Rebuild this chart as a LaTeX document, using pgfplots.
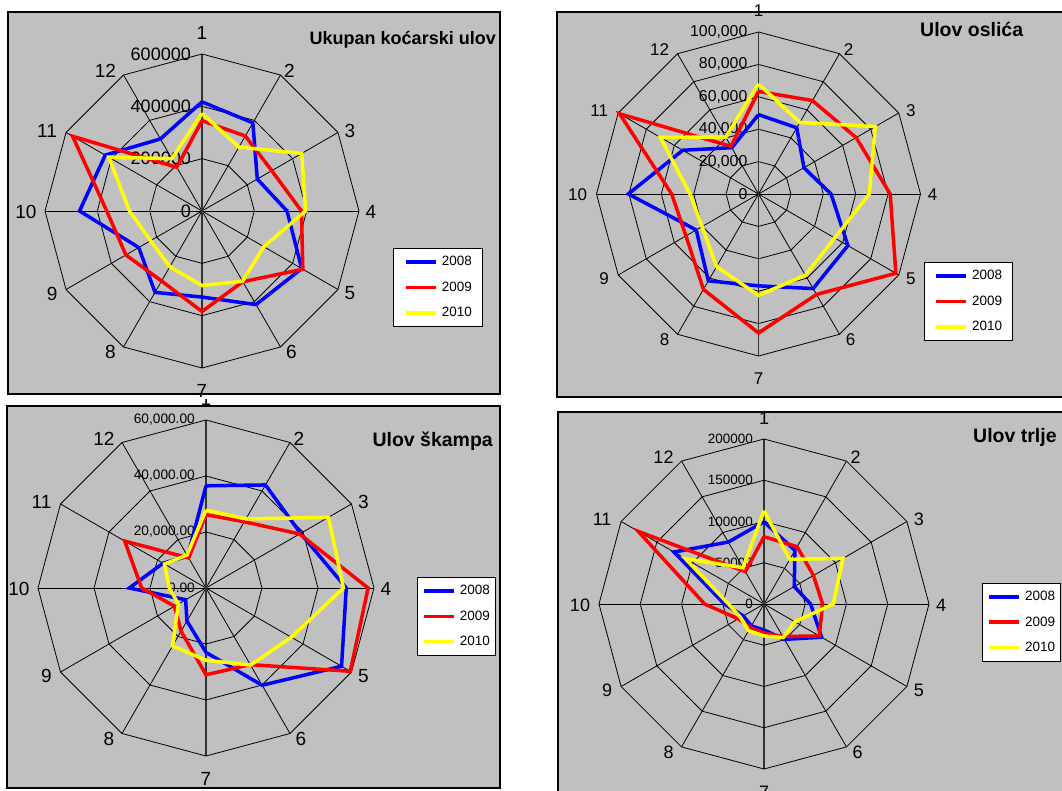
\documentclass[border=0pt]{standalone}
\usepackage{fontspec}
\setmainfont{Liberation Sans}
\usepackage{pgfplots}
\pgfplotsset{compat=1.18}
\usepackage{pgfplotstable}
\usepgfplotslibrary{polar}

\definecolor{panelgray}{RGB}{192,192,192}
\definecolor{xlblue}{RGB}{0,0,255}
\definecolor{xlred}{RGB}{255,0,0}
\definecolor{xlyellow}{RGB}{255,255,0}

% angle of month k = 90 - 30(k-1); first row repeated to close the polygon
\pgfplotstableread{
ang y08 y09 y10
90  417000 345000 373000
60  389000 331000 282000
30  244000 308000 440000
0   325000 380000 396000
330 440000 445000 273000
300 413000 312000 310000
270 329000 384000 285000
240 359000 309000 246000
210 279000 336000 227000
180 468000 364000 277000
150 427000 571000 411000
120 318000 193000 231000
90  417000 345000 373000
}\tabA

\pgfplotstableread{
ang y08 y09 y10
90  49000 63300 68000
60  47200 66600 51000
30  32400 69600 83300
0   44800 81300 68400
330 63700 97900 54300
300 67400 71600 57900
270 56700 85800 62600
240 61900 68000 51800
210 44400 51700 40200
180 80400 53600 42300
150 54000 99000 70000
120 33000 34000 40500
90  49000 63300 68000
}\tabB

\pgfplotstableread{
ang y08 y09 y10
90  36500 26200 27800
60  42500 27300 28500
30  39000 38600 50500
0   50100 57900 49100
330 55900 59500 35200
300 40100 31600 31800
270 23000 31000 25800
240 13600 17800 23900
210 8400  13000 11400
180 27400 23000 13100
150 17700 33500 17100
120 13100 12400 13600
90  36500 26200 27800
}\tabC

\pgfplotstableread{
ang y08 y09 y10
90  99600  81500  113000
60  75000  80200  62500
30  42300  69200  110600
0   56500  71000  83900
330 80600  77400  43200
300 49500  45500  46900
270 31500  35000  38700
240 30600  33000  37400
210 29000  36000  32800
180 48000  72000  43000
150 126000 176000 110000
120 86700  45300  50800
90  99600  81500  113000
}\tabD

\newcommand\fs[1]{\fontsize{#1}{#1}\selectfont}

\pgfplotsset{
  radar/.style={scale only axis, hide axis, clip=false, xmin=0, xmax=360, ymin=0,
    grid=none, xtick=\empty, ytick=\empty,
    legend cell align=left,
    legend image code/.code={\draw[##1] (0pt,0pt) -- (30pt,0pt);},
    legend style={anchor=north west, draw=black, line width=0.9pt, fill=white,
      font=\fs{13.5}, row sep=14.5pt, column sep=4pt, inner ysep=8pt,
      nodes={inner sep=0pt}},
  },
  gridl/.style={black, line width=0.8pt, forget plot},
  axl/.style={black!80, line width=1.2pt, forget plot},
  s08/.style={xlblue, line width=3.5pt},
  s09/.style={xlred, line width=3.5pt},
  s10/.style={xlyellow, line width=3.5pt},
}

\newcommand\ring[1]{\addplot[gridl] coordinates {(0,#1)(30,#1)(60,#1)(90,#1)(120,#1)(150,#1)(180,#1)(210,#1)(240,#1)(270,#1)(300,#1)(330,#1)(360,#1)};}
\newcommand\spokes[1]{\pgfplotsinvokeforeach{0,30,60,120,150,180,210,240,300,330}{\addplot[gridl] coordinates {(##1,0)(##1,#1)};}%
  \addplot[axl] coordinates {(90,#1)(90,0)(270,#1)};}
\newcommand\series[1]{%
  \addplot[s08] table[x=ang,y=y08]{#1}; \addlegendentry{2008}
  \addplot[s09] table[x=ang,y=y09]{#1}; \addlegendentry{2009}
  \addplot[s10] table[x=ang,y=y10]{#1}; \addlegendentry{2010}}
\newcommand\rlab[3]{\node[anchor=east, inner sep=0pt, font=\fs{#3}] at ([xshift=-11pt]axis cs:90,#1) {#2};}
% #1 origin, #2 outer radius (pt), #3 font size; labels offset from the spoke ends
\newcommand\catlabels[3]{%
  \foreach \k/\dx/\dy in {1/0/21,2/9/4,3/12/2,4/12/-1,5/12/-4,6/11/-5,7/0/-23,8/-13/-5,9/-14/-4,10/-19/-1,11/-19/2,12/-18/4}{%
    \pgfmathsetmacro\ang{90-30*(\k-1)}%
    \node[font=\fs{#3}, inner sep=0pt, xshift=\dx pt, yshift=\dy pt] at ([shift={(\ang:#2pt)}]#1) {\k};}}

\begin{document}
\begin{tikzpicture}[x=1pt,y=1pt]
\useasboundingbox (0,0) rectangle (1062,790);
\clip (0,0) rectangle (1062,790);
\fill[white] (0,0) rectangle (1062,790);

% ---------- Panel 3: Ulov skampa ----------
\filldraw[fill=panelgray, draw=black, line width=1.3pt] (7,2) rectangle (500,384);
\begin{polaraxis}[radar, at={(206pt,202pt)}, anchor=center, width=336pt, height=336pt,
  ymax=60000, legend style={at={(1.128,0.533)}, inner xsep=5pt}]
\spokes{60000}
\ring{20000}\ring{40000}\ring{60000}
\rlab{0}{0.00}{13.7}\rlab{20000}{20,000.00}{13.7}\rlab{40000}{40,000.00}{13.7}\rlab{60000}{60,000.00}{13.7}
\series{\tabC}
\coordinate (O3) at (axis cs:0,0);
\end{polaraxis}
\catlabels{O3}{168}{19}
\node[anchor=base east, font=\bfseries\fs{19.5}, inner sep=0pt] at (493,343) {Ulov škampa};

% ---------- Panel 1: Ukupan kocarski ulov ----------
\fill[white] (0,391) rectangle (530,790);
\filldraw[fill=panelgray, draw=black, line width=1.3pt] (8,396) rectangle (500,778);
\begin{polaraxis}[radar, at={(202pt,579pt)}, anchor=center, width=314pt, height=314pt,
  ymax=600000, legend style={at={(1.108,0.382)}, inner xsep=11pt}]
\spokes{600000}
\ring{200000}\ring{400000}\ring{600000}
\rlab{0}{0}{18}\rlab{200000}{200000}{18}\rlab{400000}{400000}{18}\rlab{600000}{600000}{18}
\series{\tabA}
\coordinate (O1) at (axis cs:0,0);
\end{polaraxis}
\catlabels{O1}{157}{19}
\node[anchor=base east, font=\bfseries\fs{18}, inner sep=0pt] at (496,745) {Ukupan koćarski ulov};

% ---------- Panel 4: Ulov trlje ----------
\filldraw[fill=panelgray, draw=black, line width=1.3pt] (558,-10) rectangle (1075,378);
\begin{polaraxis}[radar, at={(764pt,186pt)}, anchor=center, width=330pt, height=330pt,
  ymax=200000, legend style={at={(1.161,0.564)}, inner xsep=5pt}]
\spokes{200000}
\ring{50000}\ring{100000}\ring{150000}\ring{200000}
\rlab{0}{0}{13.5}\rlab{50000}{50000}{13.5}\rlab{100000}{100000}{13.5}\rlab{150000}{150000}{13.5}\rlab{200000}{200000}{13.5}
\series{\tabD}
\coordinate (O4) at (axis cs:0,0);
\end{polaraxis}
\catlabels{O4}{165}{18}
\node[anchor=base west, font=\bfseries\fs{19.5}, inner sep=0pt] at (973,347) {Ulov trlje};

% ---------- Panel 2: Ulov oslica ----------
\fill[white] (530,393) rectangle (1062,790);
\filldraw[fill=panelgray, draw=black, line width=1.3pt] (557,393) rectangle (1075,778);
\begin{polaraxis}[radar, at={(758.5pt,596pt)}, anchor=center, width=324pt, height=324pt,
  ymax=100000, legend style={at={(1.011,0.290)}, inner xsep=10pt}]
\spokes{100000}
\ring{20000}\ring{40000}\ring{60000}\ring{80000}\ring{100000}
\rlab{0}{0}{15.8}\rlab{20000}{20,000}{15.8}\rlab{40000}{40,000}{15.8}\rlab{60000}{60,000}{15.8}\rlab{80000}{80,000}{15.8}\rlab{100000}{100,000}{15.8}
\series{\tabB}
\coordinate (O2) at (axis cs:0,0);
\end{polaraxis}
\catlabels{O2}{162}{17}
\node[anchor=base west, font=\bfseries\fs{19.5}, inner sep=0pt] at (920,753) {Ulov oslića};
\end{tikzpicture}
\end{document}
